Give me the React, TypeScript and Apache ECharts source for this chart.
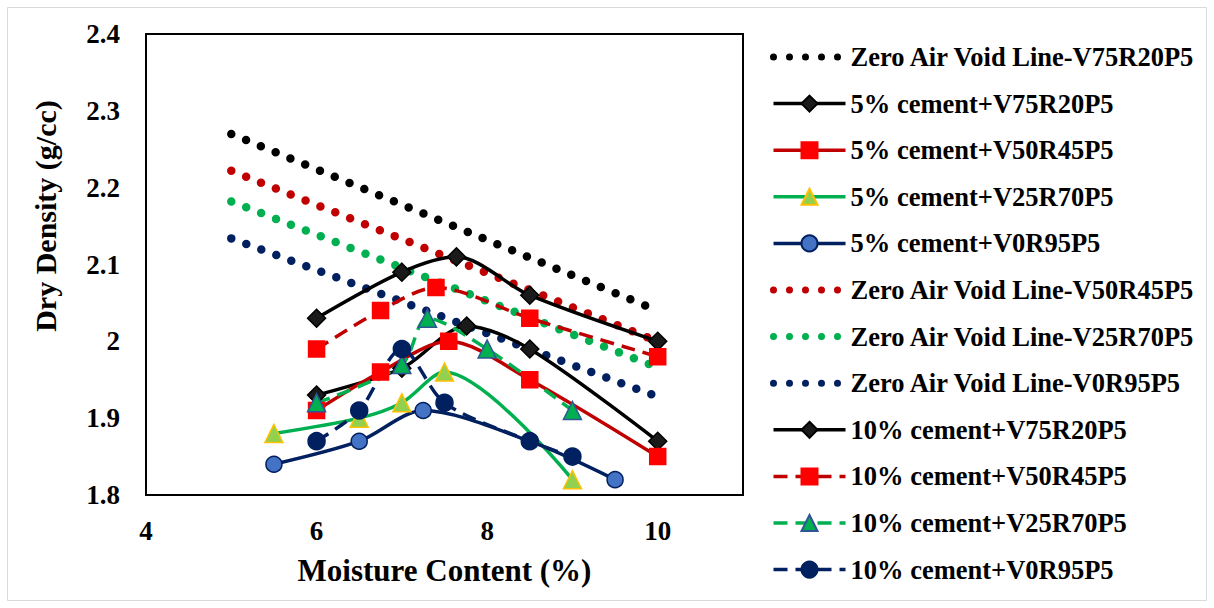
import React, { useEffect, useRef } from "react";
import * as echarts from "echarts";

// ---- data ----
const zavX = [5, 10];
const zavV75R20P5 = [2.27, 2.04];
const zavV50R45P5 = [2.222, 2.0];
const zavV25R70P5 = [2.182, 1.966];
const zavV0R95P5 = [2.134, 1.928];

const c5V75X = [6, 7, 7.76, 8.5, 10];
const c5V75Y = [1.93, 1.965, 2.02, 1.99, 1.87];
const c5V50X = [6, 6.75, 7.55, 8.5, 10];
const c5V50Y = [1.91, 1.96, 2.0, 1.95, 1.85];
const c5V25X = [5.5, 6.5, 7, 7.5, 9];
const c5V25Y = [1.88, 1.9, 1.92, 1.96, 1.82];
const c5V0X = [5.5, 6.5, 7.25, 8.5, 9.5];
const c5V0Y = [1.84, 1.87, 1.91, 1.87, 1.82];

const c10V75X = [6, 7, 7.64, 8.5, 10];
const c10V75Y = [2.03, 2.09, 2.11, 2.06, 2.0];
const c10V50X = [6, 6.75, 7.4, 8.5, 10];
const c10V50Y = [1.99, 2.04, 2.07, 2.03, 1.98];
const c10V25X = [6, 7, 7.3, 8, 9];
const c10V25Y = [1.92, 1.97, 2.03, 1.99, 1.91];
const c10V0X = [6, 6.5, 7, 7.5, 8.5, 9];
const c10V0Y = [1.87, 1.91, 1.99, 1.92, 1.87, 1.85];

const xTitle = "Moisture Content (%)";
const yTitle = "Dry Density (g/cc)";

const FONT = '"Liberation Serif", "Times New Roman", serif';
const DOT = [0, 16];
const DASH = [14, 8];

const zip = (xs: number[], ys: number[]) => xs.map((x, i) => [x, ys[i]]);

const zavSeries = (name: string, ys: number[], color: string) => ({
  name,
  type: "line",
  data: zip(zavX, ys),
  symbol: "none",
  lineStyle: { color, width: 8.5, type: DOT, cap: "round" },
  itemStyle: { color },
  z: 2,
  _zav: true,
});

const markSeries = (
  name: string,
  xs: number[],
  ys: number[],
  lineColor: string,
  symbol: string,
  size: number,
  fill: string,
  border: string,
  dashed: boolean
) => ({
  name,
  type: "line",
  data: zip(xs, ys),
  smooth: 0.3,
  symbol,
  symbolSize: size,
  showSymbol: true,
  lineStyle: { color: lineColor, width: 3.5, type: dashed ? DASH : "solid" },
  itemStyle: { color: fill, borderColor: border, borderWidth: 1.5, opacity: 1 },
  z: 3,
  _zav: false,
});

export default function App() {
  const ref = useRef<HTMLDivElement>(null);
  useEffect(() => {
    if (!ref.current) return;
    const chart = echarts.init(ref.current, null, { renderer: "svg" });
    const raw = [
      zavSeries("Zero Air Void Line-V75R20P5", zavV75R20P5, "#000000"),
      markSeries("5% cement+V75R20P5", c5V75X, c5V75Y, "#000000", "diamond", 18, "#1a1a1a", "#000000", false),
      markSeries("5% cement+V50R45P5", c5V50X, c5V50Y, "#c00000", "rect", 16, "#ff0000", "#ff0000", false),
      markSeries("5% cement+V25R70P5", c5V25X, c5V25Y, "#00b050", "triangle", 18, "#92d050", "#ffc000", false),
      markSeries("5% cement+V0R95P5", c5V0X, c5V0Y, "#002060", "circle", 16, "#4472c4", "#002060", false),
      zavSeries("Zero Air Void Line-V50R45P5", zavV50R45P5, "#c00000"),
      zavSeries("Zero Air Void Line-V25R70P5", zavV25R70P5, "#00b050"),
      zavSeries("Zero Air Void Line-V0R95P5", zavV0R95P5, "#002060"),
      markSeries("10% cement+V75R20P5", c10V75X, c10V75Y, "#000000", "diamond", 18, "#1a1a1a", "#000000", false),
      markSeries("10% cement+V50R45P5", c10V50X, c10V50Y, "#c00000", "rect", 16, "#ff0000", "#ff0000", true),
      markSeries("10% cement+V25R70P5", c10V25X, c10V25Y, "#00b050", "triangle", 18, "#00b050", "#2f5597", true),
      markSeries("10% cement+V0R95P5", c10V0X, c10V0Y, "#002060", "circle", 17, "#002060", "#002060", true),
    ];
    const legendData = raw.map((s: any) =>
      s._zav
        ? {
            name: s.name,
            itemStyle: { opacity: 0 },
            lineStyle: { color: s.lineStyle.color, width: 7, type: DOT, cap: "round" },
          }
        : {
            name: s.name,
            lineStyle: { color: s.lineStyle.color, width: 3.5, type: s.lineStyle.type },
          }
    );
    const series = raw.map(({ _zav, ...rest }: any) => rest);
    chart.setOption({
      animation: false,
      backgroundColor: "#ffffff",
      grid: {
        left: 146,
        top: 34,
        width: 597,
        height: 461,
        show: true,
        borderColor: "#000000",
        borderWidth: 2,
        backgroundColor: "transparent",
      },
      xAxis: {
        type: "value",
        min: 4,
        max: 11,
        interval: 2,
        name: xTitle,
        nameLocation: "middle",
        nameGap: 60,
        nameTextStyle: { fontFamily: FONT, fontWeight: "bold", fontSize: 31, color: "#000" },
        axisLine: { show: false },
        axisTick: { show: false },
        splitLine: { show: false },
        axisLabel: {
          margin: 22,
          fontFamily: FONT,
          fontWeight: "bold",
          fontSize: 27,
          color: "#000",
          formatter: (v: number) => (v > 10 ? "" : String(v)),
        },
      },
      yAxis: {
        type: "value",
        min: 1.8,
        max: 2.4,
        interval: 0.1,
        axisLine: { show: false },
        axisTick: { show: false },
        splitLine: { show: false },
        axisLabel: {
          margin: 26,
          fontFamily: FONT,
          fontWeight: "bold",
          fontSize: 27,
          color: "#000",
        },
      },
      legend: {
        orient: "vertical",
        left: 770,
        top: 42,
        padding: 0,
        itemWidth: 72,
        itemHeight: 20,
        itemGap: 16.6,
        selectedMode: false,
        textStyle: { fontFamily: FONT, fontWeight: "bold", fontSize: 26.5, color: "#000", lineHeight: 30 },
        data: legendData,
      },
      graphic: [
        {
          type: "rect",
          shape: { x: 7.5, y: 7.5, width: 1199, height: 593 },
          style: { fill: "none", stroke: "#d9d9d9", lineWidth: 1 },
          silent: true,
        },
        {
          type: "text",
          x: 45,
          y: 216,
          rotation: Math.PI / 2,
          style: {
            text: yTitle,
            font: `bold 30px ${FONT}`,
            fill: "#000",
            textAlign: "center",
            textVerticalAlign: "middle",
          },
        },
      ],
      series,
    });
    return () => chart.dispose();
  }, []);
  return (
    <div
      ref={ref}
      style={{ position: "absolute", left: 0, top: 0, width: 1214, height: 608 }}
    />
  );
}
